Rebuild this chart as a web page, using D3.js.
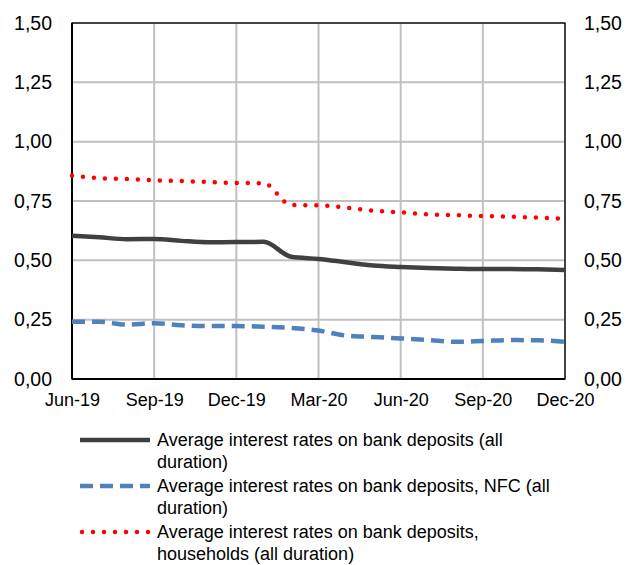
<!DOCTYPE html>
<html>
<head>
<meta charset="utf-8">
<script src="https://cdn.jsdelivr.net/npm/d3@7"></script>
<style>
  body { margin: 0; background: #fff; }
  svg text { font-family: "Liberation Sans", Arial, sans-serif; fill: #000; }
</style>
</head>
<body>
<svg id="chart" width="628" height="565"></svg>
<script>
// monthly observations, Jun-19 .. Dec-20
var months = ["Jun-19","Jul-19","Aug-19","Sep-19","Oct-19","Nov-19","Dec-19","Jan-20","Feb-20","Mar-20",
              "Apr-20","May-20","Jun-20","Jul-20","Aug-20","Sep-20","Oct-20","Nov-20","Dec-20"];
var tickMonths = ["Jun-19","Sep-19","Dec-19","Mar-20","Jun-20","Sep-20","Dec-20"];
var yTicks = [0, 0.25, 0.5, 0.75, 1.0, 1.25, 1.5];

var allDeposits = [0.604,0.597,0.589,0.590,0.582,0.576,0.577,0.578,0.515,0.506,
                   0.492,0.478,0.472,0.468,0.465,0.463,0.464,0.462,0.459];
var nfcDeposits = [0.241,0.241,0.229,0.235,0.226,0.223,0.223,0.220,0.215,0.204,
                   0.183,0.177,0.171,0.164,0.157,0.160,0.164,0.163,0.157];
var hhDeposits  = [0.857,0.846,0.843,0.837,0.834,0.830,0.826,0.825,0.733,0.732,
                   0.722,0.709,0.702,0.694,0.690,0.687,0.684,0.680,0.675];

var seriesNames = ["Average interest rates on bank deposits (all|duration)",
                   "Average interest rates on bank deposits, NFC (all|duration)",
                   "Average interest rates on bank deposits,|households (all duration)"];

var margin = {top: 23, right: 63, bottom: 186, left: 72};
var w = 565 - margin.left;
var h = 379 - margin.top;

var svg = d3.select("#chart");
var chart = svg.append("g")
    .attr("transform", "translate(" + margin.left + "," + margin.top + ")");

var x = d3.scalePoint().domain(months).range([0, w]);
var y = d3.scaleLinear().domain([0, 1.5]).range([h, 0]);
var fmt = function(d) { return d3.format(".2f")(d).replace(".", ","); };

// gridlines
chart.selectAll(".hgrid").data(yTicks.slice(1))
  .enter().append("line")
    .attr("x1", 0).attr("x2", w)
    .attr("y1", function(d) { return y(d); })
    .attr("y2", function(d) { return y(d); })
    .style("stroke", "#c0c0c0").style("stroke-width", 2);

chart.selectAll(".vgrid").data(tickMonths.slice(1))
  .enter().append("line")
    .attr("x1", function(d) { return x(d); })
    .attr("x2", function(d) { return x(d); })
    .attr("y1", 0).attr("y2", h)
    .style("stroke", "#c0c0c0").style("stroke-width", 2);

// frame
chart.append("rect")
    .attr("width", w).attr("height", h)
    .style("fill", "none").style("stroke", "#000").style("stroke-width", 1.3);
chart.append("line").attr("x1", 0).attr("x2", 0).attr("y1", 0).attr("y2", h)
    .style("stroke", "#000").style("stroke-width", 2);
chart.append("line").attr("x1", 0).attr("x2", w).attr("y1", h).attr("y2", h)
    .style("stroke", "#000").style("stroke-width", 2);

// axes
var yLeft = d3.axisLeft(y).tickValues(yTicks).tickFormat(fmt).tickSize(0).tickPadding(20);
var yRight = d3.axisRight(y).tickValues(yTicks).tickFormat(fmt).tickSize(0).tickPadding(19);
var xAxis = d3.axisBottom(x).tickValues(tickMonths).tickSize(0).tickPadding(14);

[chart.append("g").call(yLeft),
 chart.append("g").attr("transform", "translate(" + w + ",0)").call(yRight),
 chart.append("g").attr("transform", "translate(0," + h + ")").call(xAxis)
].forEach(function(g, k) {
  g.select(".domain").remove();
  g.selectAll("text").style("font-size", k < 2 ? "19.5px" : "18px");
});

// lines
var line = d3.line()
    .x(function(d, i) { return x(months[i]); })
    .y(function(d) { return y(d); })
    .curve(d3.curveMonotoneX);

var styles = [
  {color: "#404040", width: 4.5, dash: null, cap: "butt"},
  {color: "#4f81bd", width: 4.5, dash: "13,7", cap: "butt"},
  {color: "#ff0000", width: 4.5, dash: "0,11", cap: "round"}
];
var data = [allDeposits, nfcDeposits, hhDeposits];

chart.selectAll(".series").data(data)
  .enter().append("path")
    .attr("d", line)
    .style("fill", "none")
    .style("stroke", function(d, i) { return styles[i].color; })
    .style("stroke-width", function(d, i) { return styles[i].width; })
    .style("stroke-dasharray", function(d, i) { return styles[i].dash; })
    .style("stroke-linecap", function(d, i) { return styles[i].cap; });

// legend
var legend = svg.append("g").attr("transform", "translate(80,440)");
var item = legend.selectAll(".item").data(seriesNames)
  .enter().append("g")
    .attr("transform", function(d, i) { return "translate(0," + (i * 46) + ")"; });

item.append("line")
    .attr("x1", function(d, i) { return i == 2 ? 2 : 0; })
    .attr("x2", 70).attr("y1", 0).attr("y2", 0)
    .style("stroke", function(d, i) { return styles[i].color; })
    .style("stroke-width", function(d, i) { return styles[i].width; })
    .style("stroke-dasharray", function(d, i) { return styles[i].dash; })
    .style("stroke-linecap", function(d, i) { return styles[i].cap; });

item.append("text")
    .attr("x", 77)
    .attr("y", 6)
    .style("font-size", "18px")
    .selectAll("tspan")
    .data(function(d) { return d.split("|"); })
    .enter().append("tspan")
      .attr("x", 77)
      .attr("dy", function(d, i) { return i == 0 ? 0 : 22; })
      .text(function(d) { return d; });
</script>
</body>
</html>
